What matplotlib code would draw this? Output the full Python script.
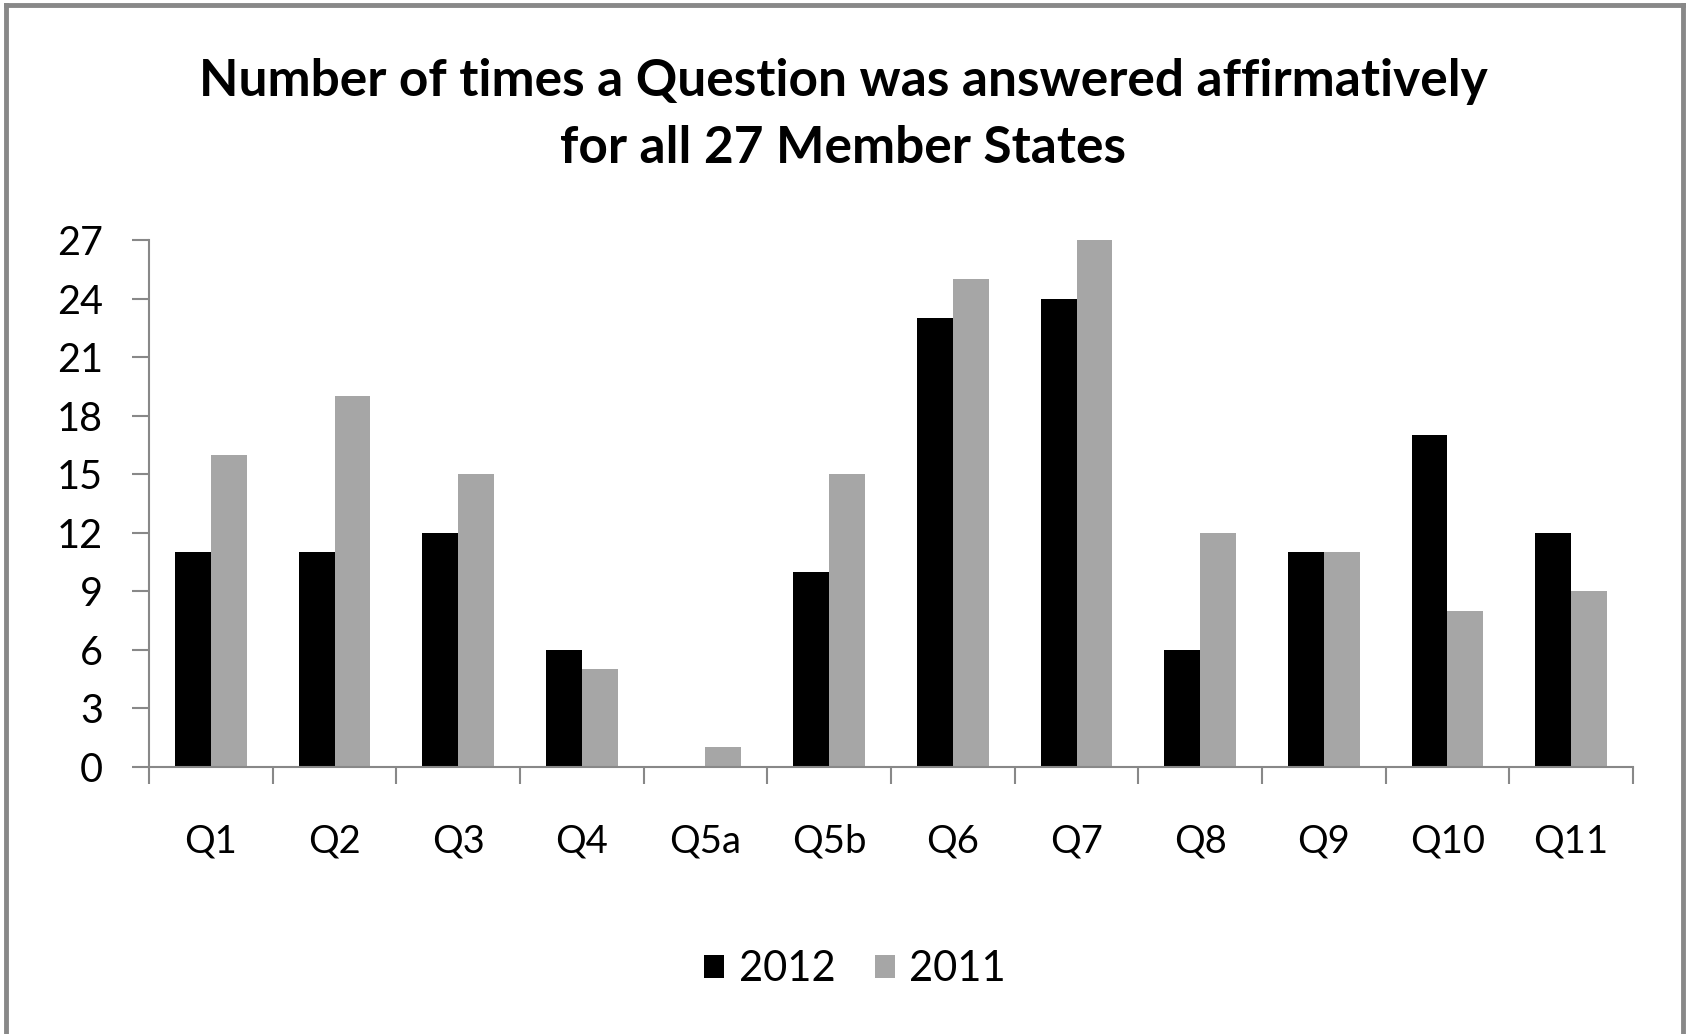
import numpy as np
import matplotlib.pyplot as plt

# values
questions = ['Q1', 'Q2', 'Q3', 'Q4', 'Q5a', 'Q5b', 'Q6', 'Q7', 'Q8', 'Q9', 'Q10', 'Q11']
yes_2012 = [11, 11, 12, 6, 0, 10, 23, 24, 6, 11, 17, 12]
yes_2011 = [16, 19, 15, 5, 1, 15, 25, 27, 12, 11, 8, 9]
yticks = [0, 3, 6, 9, 12, 15, 18, 21, 24, 27]

plt.rcParams['font.family'] = ['Lato', 'DejaVu Sans']

fig = plt.figure(figsize=(16.86, 10.34), dpi=100)
W, H = 1686, 1034
# axes box in pixels: left 149, right 1633, y0 at 767, y27 at 240
ax = fig.add_axes([149 / W, 1 - 767 / H, (1633 - 149) / W, (767 - 240) / H])

x = np.arange(len(questions))
w = 0.29
ax.bar(x - w / 2, yes_2012, w, color='black', label='2012')
ax.bar(x + w / 2, yes_2011, w, color='#a6a6a6', label='2011')

ax.set_xlim(-0.5, len(questions) - 0.5)
ax.set_ylim(0, 27)
ax.set_yticks(yticks)
ax.tick_params(axis='y', labelsize=28.5, length=12, width=1.5, color='#888888', pad=21)

# category labels at centres, tick marks at the boundaries
ax.set_xticks(x)
ax.set_xticklabels(questions)
ax.tick_params(axis='x', which='major', length=0, labelsize=27.5, pad=41)
ax.set_xticks(np.arange(-0.5, len(questions)), minor=True)
ax.tick_params(axis='x', which='minor', length=12, width=1.5, color='#888888')

for s in ['top', 'right']:
    ax.spines[s].set_visible(False)
for s in ['left', 'bottom']:
    ax.spines[s].set_color('#888888')
    ax.spines[s].set_linewidth(1.5)

fig.text(0.5, 1 - 115 / H, 'Number of times a Question was answered affirmatively\nfor all 27 Member States',
         ha='center', va='center', fontsize=37, fontweight='bold', linespacing=1.52)

fig.legend(loc='center', bbox_to_anchor=(855 / W, 1 - 969 / H), ncol=2, frameon=False,
           fontsize=30, handlelength=0.48, handleheight=0.48, handletextpad=0.35, columnspacing=0.95)

# grey frame around the chart (no bottom edge visible in the original)
fig.add_artist(plt.Line2D([6 / W, 6 / W], [0, 1 - 5 / H], color='#888888', lw=3.5, transform=fig.transFigure))
fig.add_artist(plt.Line2D([6 / W, 1683 / W], [1 - 5 / H, 1 - 5 / H], color='#888888', lw=3.5, transform=fig.transFigure))
fig.add_artist(plt.Line2D([1683 / W, 1683 / W], [0, 1 - 5 / H], color='#888888', lw=3.5, transform=fig.transFigure))

plt.savefig('out.png', dpi=100)
